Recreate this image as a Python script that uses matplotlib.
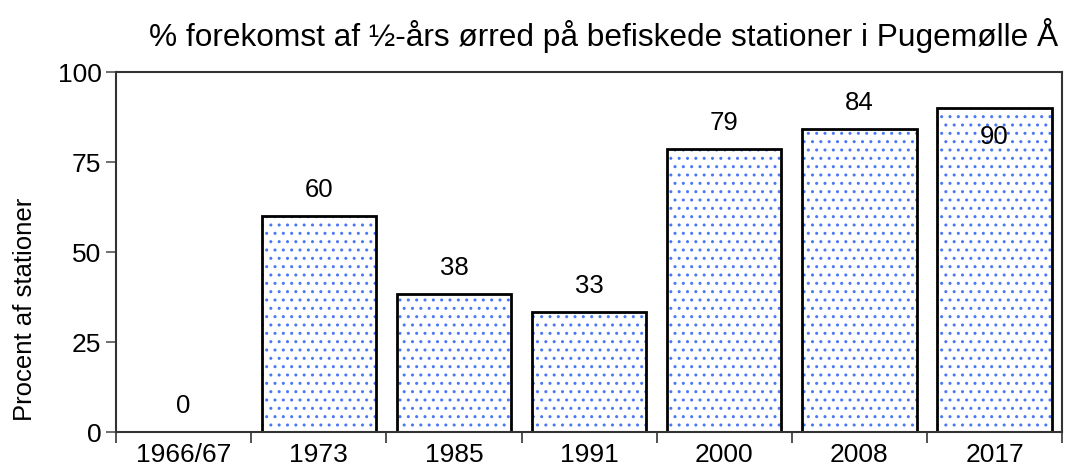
import numpy as np
import matplotlib
matplotlib.use("Agg")
import matplotlib.pyplot as plt

plt.rcParams["font.family"] = ["Liberation Sans", "DejaVu Sans"]
plt.rcParams["hatch.linewidth"] = 1.0

years  = ["1966/67", "1973", "1985", "1991", "2000", "2008", "2017"]
values = [0, 60, 38.4, 33.4, 78.6, 84.2, 90]
labels = ["0", "60", "38", "33", "79", "84", "90"]

fig = plt.figure(figsize=(10.74, 4.75), dpi=100)
ax = fig.add_axes([0.108, 0.0905, 0.881, 0.7575])

x = np.arange(len(years))
# dotted fill, then black outline on top
ax.bar(x, values, width=0.845, color="white", edgecolor="#4a78f5",
       hatch="..", linewidth=0)
ax.bar(x, values, width=0.845, color="none", edgecolor="black", linewidth=2)

for xi, v, lab in zip(x, values, labels):
    if v > 86:
        ax.text(xi, v - 8, lab, ha="center", va="center", fontsize=18.5)
    else:
        ax.text(xi, v + 7.2, lab, ha="center", va="center", fontsize=18.5)

ax.set_xlim(-0.5, len(years) - 0.5)
ax.set_ylim(0, 100)
ax.set_yticks([0, 25, 50, 75, 100])
ax.set_xticks(x)
ax.set_xticklabels(years, fontsize=19)
ax.set_xticks(np.arange(-0.5, len(years)), minor=True)
ax.tick_params(axis="x", which="major", length=0, pad=8)
ax.tick_params(axis="x", which="minor", length=8, width=1.2, color="#333333")
ax.tick_params(axis="y", length=7, width=1.2, color="#555555", labelsize=19)
for s in ax.spines.values():
    s.set_linewidth(1.5)
    s.set_color("#333333")

ax.set_ylabel("Procent af stationer", fontsize=18.5)
ax.yaxis.set_label_coords(-0.0835, 0.342)
fig.text(0.562, 0.926, "% forekomst af ½-års ørred på befiskede stationer i Pugemølle Å",
         ha="center", va="center", fontsize=22.8)

fig.savefig("out.png", dpi=100)
